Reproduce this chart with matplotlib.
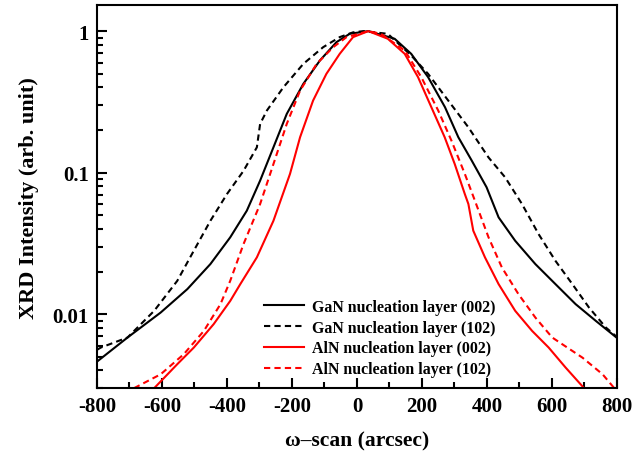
import matplotlib
matplotlib.use("Agg")
import matplotlib.pyplot as plt
from matplotlib.ticker import FixedLocator, MultipleLocator, LogLocator, NullFormatter

plt.rcParams['font.family'] = ['Liberation Serif', 'DejaVu Serif']
plt.rcParams['font.weight'] = 'bold'
plt.rcParams['axes.unicode_minus'] = False

# GaN nucleation layer (002)
gan002_x = [-800, -706, -604, -522, -451, -390, -339, -298, -257, -216, -165, -114, -63,
            -22, 35, 116, 167, 219, 271, 312, 353, 399, 436, 487, 549, 611, 673, 735, 800]
gan002_y = [0.00462, 0.00684, 0.01027, 0.01503, 0.0226, 0.0349, 0.0538, 0.0878, 0.151,
            0.260, 0.424, 0.620, 0.836, 0.958, 1.0, 0.883, 0.691, 0.473, 0.29, 0.178,
            0.122, 0.0788, 0.0483, 0.033, 0.0226, 0.0163, 0.01177, 0.00897, 0.0068]

# GaN nucleation layer (102)
gan102_x = [-800, -788, -706, -624, -553, -502, -451, -400, -349, -308, -298, -277, -226,
            -165, -104, -53, -12, 20, 95, 167, 219, 281, 343, 405, 456, 508, 559, 611,
            663, 714, 766, 800]
gan102_y = [0.0056, 0.00581, 0.00684, 0.01056, 0.0172, 0.0281, 0.0457, 0.0706, 0.103,
            0.151, 0.221, 0.275, 0.402, 0.587, 0.77, 0.907, 0.98, 1.0, 0.957, 0.673,
            0.499, 0.323, 0.209, 0.128, 0.0927, 0.060, 0.0368, 0.0238, 0.0163, 0.01115,
            0.00805, 0.0069]

# AlN nucleation layer (002)
aln002_x = [-624, -553, -502, -441, -390, -359, -308, -257, -206, -175, -135, -94, -53,
            -12, 35, 95, 147, 188, 229, 270, 301, 332, 343, 358, 394, 436, 487, 539, 590,
            642, 699]
aln002_y = [0.0030, 0.00443, 0.00581, 0.0085, 0.0124, 0.0163, 0.0252, 0.0457, 0.098,
            0.178, 0.323, 0.499, 0.691, 0.907, 1.0, 0.883, 0.691, 0.473, 0.29, 0.178,
            0.115, 0.0706, 0.060, 0.0389, 0.0252, 0.0163, 0.01056, 0.00762, 0.00581,
            0.0042, 0.0030]

# AlN nucleation layer (102)
aln102_x = [-686, -604, -533, -471, -420, -390, -349, -298, -257, -216, -175, -124, -73,
            -32, 35, 74, 147, 198, 250, 291, 332, 363, 405, 446, 497, 549, 601, 632, 694,
            756, 792]
aln102_y = [0.0030, 0.00376, 0.00521, 0.00762, 0.01177, 0.0172, 0.0313, 0.060, 0.115,
            0.221, 0.38, 0.587, 0.77, 0.907, 1.0, 0.957, 0.73, 0.473, 0.275, 0.168,
            0.098, 0.0634, 0.0349, 0.0214, 0.01386, 0.00947, 0.00684, 0.00613, 0.00493,
            0.00376, 0.0030]

labels = ['GaN nucleation layer (002)', 'GaN nucleation layer (102)',
          'AlN nucleation layer (002)', 'AlN nucleation layer (102)']

fig = plt.figure(figsize=(6.34, 4.60), dpi=100)
ax = fig.add_axes([0.153, 0.154, 0.82, 0.833])

dash = (0, (3, 2))
ax.plot(gan002_x, gan002_y, color='black', lw=1.5, label=labels[0])
ax.plot(gan102_x, gan102_y, color='black', lw=1.5, ls=dash, label=labels[1])
ax.plot(aln002_x, aln002_y, color='red', lw=1.5, label=labels[2])
ax.plot(aln102_x, aln102_y, color='red', lw=1.5, ls=dash, label=labels[3])

ax.set_yscale('log')
ax.set_xlim(-800, 800)
ax.set_ylim(0.0030, 1.53)

ax.xaxis.set_major_locator(MultipleLocator(200))
ax.xaxis.set_minor_locator(MultipleLocator(100))
ax.yaxis.set_major_locator(FixedLocator([0.01, 0.1, 1]))
ax.yaxis.set_minor_locator(LogLocator(base=10, subs=range(2, 10)))
ax.yaxis.set_minor_formatter(NullFormatter())
ax.set_yticklabels(['0.01', '0.1', '1'])

ax.tick_params(which='both', direction='in', top=False, right=False, width=1.5,
               labelsize=15)
ax.tick_params(which='major', length=7, pad=6)
ax.tick_params(which='minor', length=4)
for lab in ax.get_xticklabels() + ax.get_yticklabels():
    lab.set_fontweight('bold')
for sp in ax.spines.values():
    sp.set_linewidth(1.5)

ax.set_xlabel('\u03c9\u2013scan (arcsec)', fontsize=15.5, fontweight='bold', labelpad=10)
ax.set_ylabel('XRD Intensity (arb. unit)', fontsize=16, fontweight='bold', labelpad=10)

ax.legend(loc='lower left', bbox_to_anchor=(0.30, 0.0), frameon=False,
          prop={'size': 11.4, 'weight': 'bold'}, handlelength=2.5,
          handletextpad=0.5, labelspacing=0.3, borderaxespad=0.3)

fig.savefig('out.png', dpi=100)
